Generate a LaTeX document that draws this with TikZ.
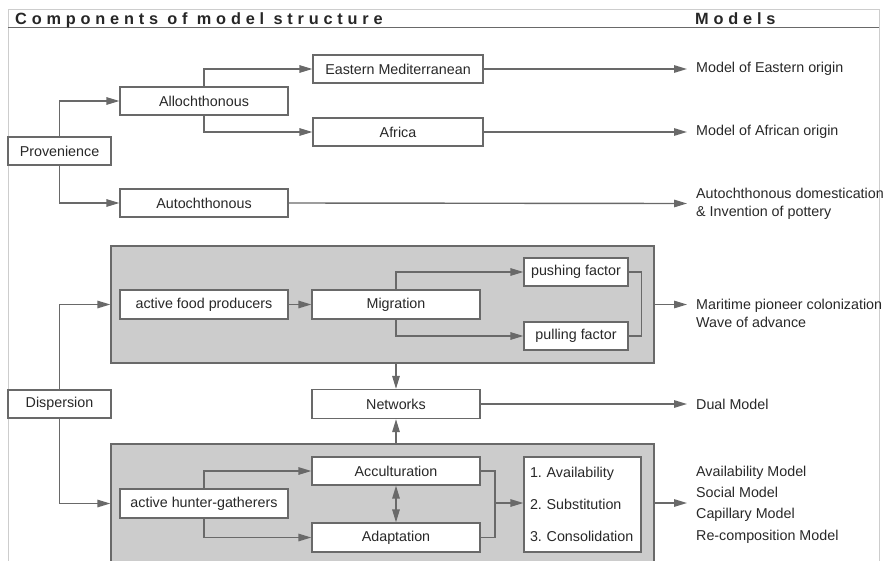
\documentclass[tikz,border=0pt]{standalone}
\usepackage{fontspec}
\setmainfont{Liberation Sans}
\newfontfamily\headfont[LetterSpace=29.5]{Liberation Sans}
\usetikzlibrary{arrows.meta}
\definecolor{linec}{RGB}{105,105,105}
\definecolor{textc}{RGB}{40,40,40}
\definecolor{fillc}{RGB}{204,204,204}
\definecolor{framec}{RGB}{205,205,205}
\tikzset{
  tip/.tip={Triangle[length=13pt,width=7.5pt]},
  box/.style={draw=linec, line width=1.3pt, fill=white, minimum height=28pt, inner sep=0pt, text=textc, font=\fontsize{14.3}{16}\selectfont},
  wbox/.style={box, minimum width=168pt},
  sbox/.style={box, minimum width=103pt},
  area/.style={draw=linec, line width=1.3pt, fill=fillc},
  arr/.style={draw=linec, line width=1.4pt, -tip},
  ln/.style={draw=linec, line width=1.4pt},
  model/.style={anchor=west, inner xsep=9pt, inner ysep=0pt, text=textc, align=left, font=\fontsize{14.3}{18}\selectfont},
}
\begin{document}
\frenchspacing
\begin{tikzpicture}[x=1pt,y=-1pt]
\useasboundingbox (0,0) rectangle (884,560);
\clip (0,0) rectangle (884,560);
% frame and header
\draw[framec, line width=1pt] (8,575) -- (8,9) -- (879,9) -- (879,575);
\draw[linec, line width=1.2pt] (8,27.5) -- (879,27.5);
\node[anchor=base west, inner sep=0pt, text=black!85, font=\headfont\bfseries\fontsize{16.3}{18}\selectfont] (h1) at (15,24.3) {Components of model structure};
\node[anchor=base west, inner sep=0pt, text=black!85, font=\headfont\bfseries\fontsize{16.3}{18}\selectfont] (h2) at (695,24.3) {Models};
% gray areas
\node[area, minimum width=543pt, minimum height=117pt, inner sep=0pt] (g1) at (382.5,304.5) {};
\node[area, minimum width=543pt, minimum height=140pt, inner sep=0pt] (g2) at (382.5,514) {};
% provenience part
\node[sbox] (prov) at (59.5,151) {Provenience};
\node[wbox] (alloch) at (204,101) {Allochthonous};
\node[box, minimum width=170pt] (emed) at (398,69) {Eastern Mediterranean};
\node[box, minimum width=170pt] (afr) at (398,132) {Africa};
\node[wbox] (autoch) at (204,203) {Autochthonous};
\node[model] (m1) at (687,69) {Model of Eastern origin};
\node[model] (m2) at (687,132) {Model of African origin};
\node[model] (m3) at (687,203.5) {Autochthonous domestication\\\& Invention of pottery};
\draw[arr] (prov.north) |- (alloch.west);
\draw[arr] (prov.south) |- (autoch.west);
\draw[arr] (alloch.north) |- (emed.west);
\draw[arr] (alloch.south) |- (afr.west);
\draw[arr] (emed.east) -- (m1.west);
\draw[arr] (afr.east) -- (m2.west);
\draw[arr] (autoch.east) -- (m3.west);
% dispersion part
\node[sbox] (disp) at (59.5,404) {Dispersion};
\node[wbox, minimum height=29pt] (afp) at (204,304.5) {active food producers};
\node[wbox, minimum height=29pt] (mig) at (396,304.5) {Migration};
\node[box, minimum width=104pt] (push) at (576,272) {pushing factor};
\node[box, minimum width=104pt] (pull) at (576,336) {pulling factor};
\node[wbox, minimum height=29pt] (net) at (396,404) {Networks};
\node[wbox, minimum height=29pt] (ahg) at (204,503.5) {active hunter-gatherers};
\node[wbox] (acc) at (396,471) {Acculturation};
\node[wbox, minimum height=29pt] (adp) at (396,537.5) {Adaptation};
\node[box, minimum height=95pt, inner xsep=6pt, text width=105pt, align=left, font=\fontsize{14.3}{32}\selectfont] (list) at (582.5,504.5) {1. Availability\\2. Substitution\\3. Consolidation};
\node[model] (m4) at (687,313) {Maritime pioneer colonization\\Wave of advance};
\node[model] (m5) at (687,404) {Dual Model};
\node[model, font=\fontsize{14.3}{21.3}\selectfont] (m6) at (687,504.5) {Availability Model\\Social Model\\Capillary Model\\Re-composition Model};
\coordinate (bk) at (495,503);
\draw[arr] (disp.north) |- (afp -| g1.west);
\draw[arr] (disp.south) |- (ahg -| g2.west);
\draw[arr] (afp) -- (mig);
\draw[arr] (mig.north) |- (push.west);
\draw[arr] (mig.south) |- (pull.west);
\draw[ln] (push.east) -- ++(13,0) |- (pull.east);
\draw[arr] (g1.east |- mig) -- (m4.west |- mig);
\draw[arr] (g1.south -| net) -- (net.north);
\draw[arr] (g2.north -| net) -- (net.south);
\draw[arr] (net.east) -- (m5.west);
\draw[arr] (ahg.north) |- (acc.west);
\draw[arr] (ahg.south) |- (adp.west);
\draw[ln, tip-tip] (acc.south) -- (adp.north);
\draw[ln] (acc.east) -| (bk) |- (adp.east);
\draw[arr] (bk) -- (bk -| list.west);
\draw[arr] (g2.east |- bk) -- (m6.west |- bk);
\end{tikzpicture}
\end{document}
